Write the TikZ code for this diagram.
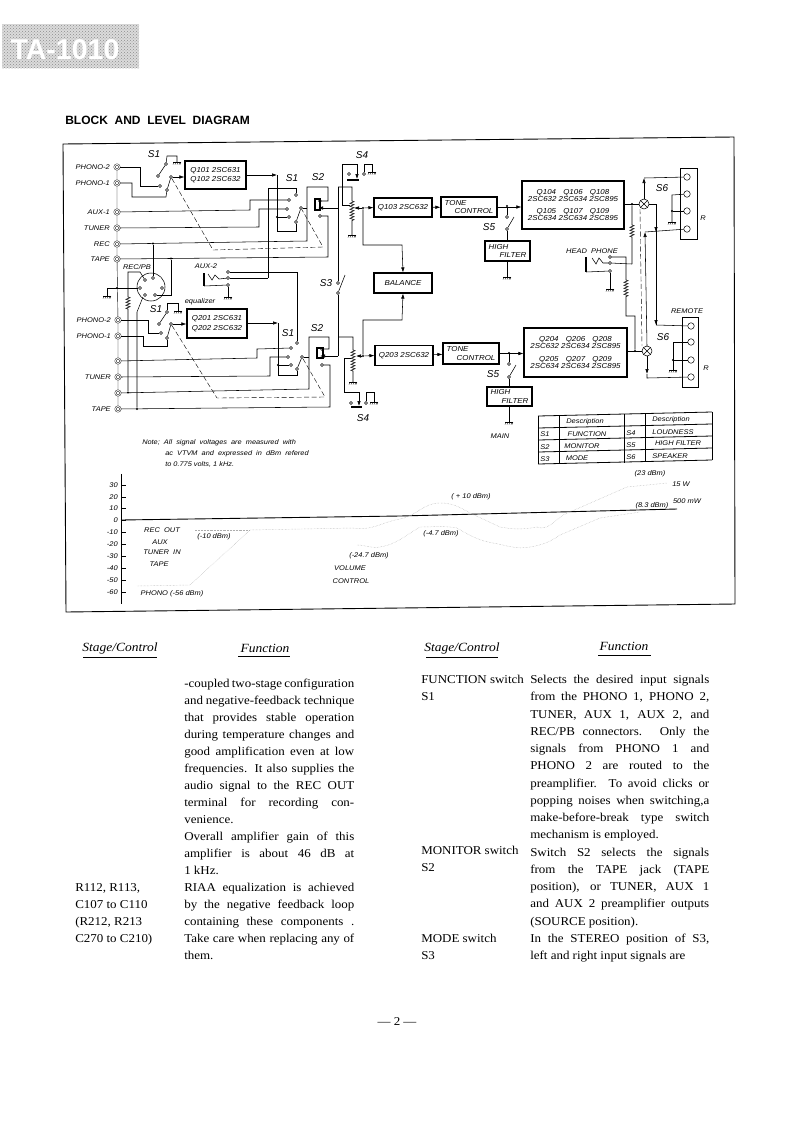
\documentclass[tikz,border=0pt]{standalone}
\usepackage{fontspec}
\setmainfont[FakeStretch=1.08]{Liberation Serif}
\newfontfamily\labfont[FakeStretch=1.1]{Liberation Sans}
\newfontfamily\titlefont{Liberation Sans}
\usepackage{amsmath,amssymb}
\usetikzlibrary{arrows.meta,positioning,calc,decorations.pathmorphing,patterns}

\begin{document}
\begin{tikzpicture}[x=1pt,y=-1pt,>={Latex[length=5pt,width=3.5pt]},line width=.55pt,
  box/.style={draw,line width=1.1pt,inner sep=0pt,align=left,font=\labfont\itshape\fontsize{7.2}{8.6}\selectfont},
  lab/.style={inner sep=0pt,align=center,font=\labfont\itshape\fontsize{6.8}{8}\selectfont},
  big/.style={inner sep=0pt,font=\titlefont\itshape\fontsize{10}{11}\selectfont},
  jack/.style={circle,draw,line width=.4pt,double,double distance=.9pt,inner sep=0pt,minimum size=5pt,fill=white},
  term/.style={circle,draw,line width=.4pt,fill=white,inner sep=0pt,minimum size=3pt},
  spk/.style={circle,draw,line width=.5pt,fill=white,inner sep=0pt,minimum size=6.5pt},
  dot/.style={circle,fill,inner sep=0pt,minimum size=2.2pt},
  mix/.style={circle,draw,fill=white,inner sep=0pt,minimum size=10pt,path picture={
    \draw (path picture bounding box.north west) -- (path picture bounding box.south east)
          (path picture bounding box.north east) -- (path picture bounding box.south west);}},
  zz/.style={decoration={zigzag,segment length=3pt,amplitude=2pt}},
  link/.style={dashed,dash pattern=on 5pt off 2.5pt,line width=.4pt},
  trace/.style={densely dotted,line width=.45pt,black!32},
  body/.style={inner sep=0pt,anchor=north west,align=justify,font=\fontsize{12}{17}\selectfont},
  stage/.style={inner sep=0pt,anchor=north west,align=left,font=\fontsize{12}{17.2}\selectfont},
  head/.style={inner sep=0pt,font=\itshape\fontsize{12.5}{14}\selectfont},
  gnd/.pic={\draw[line width=.4pt] (-4,0) -- (4,0);
    \foreach \i in {-3,-1,1,3,4} \draw[line width=.3pt] (\i,0) -- (\i-1,2.5);}]
\useasboundingbox (0,0) rectangle (795,1122);

% banner and title
\fill[black!14] (2,24) rectangle (139,68);
\fill[pattern=crosshatch dots,pattern color=black!45] (2,24) rectangle (139,68);
\node (banner) [inner sep=0pt,text=white,font=\titlefont\bfseries\fontsize{28.5}{30}\selectfont] at (65,50) {TA-1010};
\node (title) [inner sep=0pt,anchor=west,font=\titlefont\bfseries\fontsize{12}{14}\selectfont] at (65,120) {BLOCK\ \ AND\ \ LEVEL\ \ DIAGRAM};
\draw[line width=.9pt] (63,144) -- (734,137) -- (735,604) -- (66,612) -- cycle;

% jacks
\foreach \n/\y/\t in {jpa/167/PHONO-2,jpb/183/PHONO-1,jaux/212/AUX-1,jtun/228/TUNER,jrec/244/REC,jtap/259/TAPE}{
  \node (\n) [jack] at (117,\y) {};
  \node (\n txt) [lab,anchor=east] at (110,\y) {\t};
}
\foreach \n/\y/\t in {lpa/320/PHONO-2,lpb/336/PHONO-1,laux/361/,ltun/377/TUNER,lrec/393/,ltap/409/TAPE}{
  \node (\n) [jack] at (118,\y) {};
  \node (\n txt) [lab,anchor=east] at (111,\y) {\t};
}
\draw[line width=.4pt] (jpa) -- (jpb) -- (jaux) -- (jtun) -- (jrec) -- (jtap) -- (lpa) -- (lpb) -- (laux) -- (ltun) -- (lrec) -- (ltap);

% blocks, upper channel
\node (q101) [box,minimum width=61pt,minimum height=28pt] at (215.5,175) {Q101 2SC631\\[1pt]Q102 2SC632};
\node (q103) [box,minimum width=58pt,minimum height=19pt,align=center] at (403,207.5) {Q103 2SC632};
\node (tone1) [box,minimum width=56pt,minimum height=20pt,align=left] at (469,207) {TONE\\\hspace*{10pt}CONTROL};
\node (q104) [box,minimum width=102pt,minimum height=48pt,align=center] at (573,205) {Q104\quad Q106\quad Q108\\[-1.5pt]2SC632 2SC634 2SC895\\[4pt]Q105\quad Q107\quad Q109\\[-1.5pt]2SC634 2SC634 2SC895};
\node (hf1) [box,minimum width=45pt,minimum height=20pt] at (507.5,251) {HIGH\\\hspace*{11pt}FILTER};
\node (bal) [box,minimum width=58pt,minimum height=20pt,align=center] at (403,283) {BALANCE};
% blocks, lower channel
\node (q201) [box,minimum width=60pt,minimum height=29pt] at (217,323.5) {Q201 2SC631\\[1pt]Q202 2SC632};
\node (q203) [box,minimum width=58pt,minimum height=20pt,align=center] at (404,355.5) {Q203 2SC632};
\node (tone2) [box,minimum width=56pt,minimum height=21pt,align=left] at (471,353.5) {TONE\\\hspace*{10pt}CONTROL};
\node (q204) [box,minimum width=103pt,minimum height=49pt,align=center] at (575.5,352.5) {Q204\quad Q206\quad Q208\\[-1.5pt]2SC632 2SC634 2SC895\\[4pt]Q205\quad Q207\quad Q209\\[-1.5pt]2SC634 2SC634 2SC895};
\node (hf2) [box,minimum width=45pt,minimum height=19pt] at (509.5,396.5) {HIGH\\\hspace*{11pt}FILTER};

% upper S1 input
\node (a1) [term] at (160,186) {};
\node (a2) [term] at (167,190) {};
\node (a3) [term] at (171,177) {};
\node (a4) [term] at (158,176) {};
\node (a5) [term] at (166,164) {};
\draw (jpa) -- (140,167) -- (140,186) -- (a1);
\draw (jpb) -- (132,183) -- (132,197) -- (166,197) -- (a2);
\draw (a2) -- (a3);
\draw (a4) -- (a5);
\draw (a5) -- (167,156) -- (177,156) -- (177,162);
\pic at (177,162) {gnd};
\draw[->] (a3) -- (q101.west |- a3);
% upper S1 output
\node (b1) [term] at (296,195) {};
\node (b2) [term] at (289,200) {};
\node (b3) [term] at (287,209) {};
\node (b4) [term] at (289,217) {};
\node (b5) [term] at (296,222) {};
\node (b6) [term] at (301,208) {};
\node (bj) [dot] at (277,217) {};
\draw[->] (q101.east |- 0,175) -- (277,175);
\draw (277,175) -- (277,231) -- (296,231) -- (b5);
\draw (bj) -- (b4);
\draw (b5) -- (b6);
\draw (b1) -- (296,188) -- (268,188) -- (268,278);
\draw (b2) -- (250,200) -- (250,210) -- (jaux);
\draw (b3) -- (259,209) -- (259,227) -- (jtun);
% upper S2
\node (c1) [term] at (320,201) {};
\node (c2) [term] at (320,216) {};
\draw[line width=1.5pt] (315,199) rectangle (320,210);
\draw (b6) -- (307,208);
\draw (jrec) -- (307,241) -- (307,187) -- (328,187) -- (328,201) -- (c1);
\draw (jtap) -- (328,257) -- (328,216) -- (c2);
\draw[link] (a3) -- (213,250) -- (323,247) -- (b6);
% REC/PB socket
\node (din) [circle,draw,inner sep=0pt,minimum size=28pt] at (151,287) {};
\foreach \n/\x/\y in {p1/145/280,p2/153/278,p3/162/288,p4/155/295,p5/145/295,p6/140/288}{
  \node (\n) [term] at (\x,\y) {};
}
\node (recpb) [lab] at (137,267) {REC/PB};
\node (d1) [dot] at (153,243.5) {};
\node (d2) [dot] at (171,258.5) {};
\node (d3) [dot] at (117,288) {};
\node (d4) [dot] at (128,392.5) {};
\node (d5) [dot] at (137,409) {};
\draw (d1) -- (p2);
\draw (d2) -- (171,295) -- (p4);
\draw (p1) -- (140,272) -- (128,272) -- (128,297) decorate[decoration={zigzag,segment length=3pt,amplitude=2pt}] {-- (128,310)} -- (d4);
\draw (107,288) -- (p6);
\draw (107,288) -- (107,296);
\pic at (107,296) {gnd};
\draw (d5) -- (137,312) -- (143,297);
% AUX-2
\node (aux2) [lab] at (206,266) {AUX-2};
\node (e1) [term] at (228,272) {};
\node (e2) [term] at (228,278) {};
\node (e3) [term] at (228,285) {};
\draw[line width=1.1pt] (204,273) -- (204,286);
\draw (204,286) -- (e3);
\draw (208,274) -- (212,280) -- (215,275) -- (219,279) -- (e2);
\draw (e2) -- (268,278);
\draw (e3) -- (228,297);
\pic at (228,297) {gnd};
% lower S1 input
\node (f1) [term] at (161,333) {};
\node (f2) [term] at (167,338) {};
\node (f3) [term] at (171,324) {};
\node (f4) [term] at (159,324) {};
\node (f5) [term] at (167,312) {};
\draw (lpa) -- (148,320) -- (148,333) -- (f1);
\draw (lpb) -- (143,336) -- (143,346) -- (167,346) -- (f2);
\draw (f2) -- (f3);
\draw (f4) -- (f5);
\draw (f5) -- (167,303) -- (178,303) -- (178,311);
\pic at (178,311) {gnd};
\draw[->] (f3) -- (q201.west |- f3);
% lower S1 output
\node (g1) [term] at (297,343) {};
\node (g2) [term] at (291,348) {};
\node (g3) [term] at (288,357) {};
\node (g4) [term] at (291,365) {};
\node (g5) [term] at (297,369) {};
\node (g6) [term] at (302,357) {};
\node (gj) [dot] at (278,365) {};
\draw[->] (q201.east |- 0,323) -- (278,323);
\draw (278,323) -- (278,375) -- (297,375) -- (g5);
\draw (gj) -- (g4);
\draw (g5) -- (g6);
\draw (e1) -- (297,272) -- (g1);
\draw (g2) -- (257,349) -- (257,358) -- (laux);
\draw (g3) -- (270,357) -- (270,376) -- (ltun);
% lower S2
\node (h1) [term] at (322,349) {};
\node (h2) [term] at (322,365) {};
\draw[line width=1.5pt] (317,348) rectangle (323,358);
\draw (g6) -- (309,357);
\draw (lrec) -- (309,389) -- (309,337) -- (329,337) -- (329,349) -- (h1);
\draw (ltap) -- (330,407) -- (330,365) -- (h2);
\draw[link] (f3) -- (217,398) -- (325,397) -- (g6);
% S3 and monitor outputs
\node (s3a) [term] at (338,283) {};
\node (s3b) [term] at (338,293) {};
\draw (s3b) -- (345,275);
\draw (338,187) -- (s3a);
\draw (s3b) -- (338,356);
\draw[->] (338,208) -- (318,208);
\draw[->] (338,356) -- (320,356);
% upper volume and S4
\node (wu) [dot] at (363,208) {};
\draw (338,187) -- (352,187) -- (352,201) decorate[zz] {-- (352,221)} -- (352,235);
\pic at (352,235) {gnd};
\draw[->] (wu) -- (354,208);
\draw[->] (wu) -- (q103.west);
\draw (350,205) -- (342,205) -- (342,164) -- (357,164);
\draw[->] (357,164) -- (357,179);
\draw[line width=1.5pt] (347,180) -- (359,180);
\node (u1) [term] at (349,174) {};
\node (u2) [term] at (364,174) {};
\draw (u2) -- (364,164) -- (372,164) -- (372,172);
\pic at (372,172) {gnd};
\draw[->] (wu) -- (363,245) -- (402,245) -- (bal.north);
% lower volume and S4
\node (wl) [dot] at (363,356) {};
\draw (338,337) -- (353,337) -- (353,350) decorate[zz] {-- (353,372)} -- (353,382);
\pic at (353,382) {gnd};
\draw[->] (wl) -- (356,356);
\draw[->] (wl) -- (q203.west);
\draw (351,358) -- (344,358) -- (344,392) -- (359,392);
\draw[->] (359,392) -- (359,406);
\draw[line width=1.5pt] (351,407) -- (362,407);
\node (v1) [term] at (351,403) {};
\node (v2) [term] at (366,403) {};
\draw (v2) -- (366,392) -- (374,392) -- (374,402);
\pic at (374,402) {gnd};
\draw[->] (wl) -- (363,320) -- (402,320) -- (bal.south);
% tone and high filter
\draw[->] (q103) -- (tone1);
\draw[->] (q203) -- (tone2);
\node (k1) [dot] at (507,206) {};
\node (k2) [term] at (507,217) {};
\node (k3) [term] at (507,229) {};
\draw[->] (tone1.east) -- (q104.west |- tone1.east);
\draw (k1) -- (k2);
\draw (k3) -- (514,217);
\draw (k3) -- (hf1.north -| k3);
\draw (hf1.south -| k3) -- (507,277);
\pic at (507,277) {gnd};
\node (m1) [dot] at (509,353) {};
\node (m2) [term] at (509,364) {};
\node (m3) [term] at (509,377) {};
\draw[->] (tone2.east) -- (q204.west |- tone2.east);
\draw (m1) -- (m2);
\draw (m3) -- (516,365);
\draw (m3) -- (hf2.north -| m3);
\draw (hf2.south -| m3) -- (509,422);
\pic at (509,422) {gnd};
% power amp outputs
\node (x1) [mix] at (644,204) {};
\node (x2) [mix] at (647,351) {};
\node (n1) [dot] at (632,204) {};
\node (n2) [dot] at (635,351) {};
\draw (q104.east |- x1) -- (x1);
\draw (q204.east |- x2) -- (x2);
\draw (n1) -- (632,225) decorate[zz] {-- (632,237)} -- (632,264);
\node (pa) [term] at (610,257) {};
\node (pb) [term] at (610,263) {};
\node (pc) [term] at (610,271) {};
\node (hp) [lab] at (592,251) {HEAD\ \ PHONE};
\draw[line width=1.1pt] (586,257) -- (586,272);
\draw (586,272) -- (pc);
\draw (592,258) -- (596,264) -- (599,258) -- (603,263) -- (pb);
\draw (pb) -- (632,264);
\draw (pc) -- (610,289);
\pic at (610,289) {gnd};
\draw (pa) -- (626,257) -- (626,280) decorate[zz] {-- (626,297)} -- (626,316) -- (635,316) -- (n2);
\draw[link] (640,209) -- (642,346);
% speaker terminals, upper
\node (sp1) [draw,line width=.9pt,minimum width=17pt,minimum height=71pt,inner sep=0pt] at (688.5,203.5) {};
\foreach \n/\y in {ua/177,ub/194,uc/211,ud/229}{
  \node (\n) [spk] at (687,\y) {};
}
\node (r1) [lab] at (703,218) {R};
\node (s6u) [big] at (662,188) {S6};
\draw[->] (x1) -- (644,178);
\draw (644,178) -- (ua);
\draw (x1) -- (656,204) -- (656,325);
\draw[->] (656,215) -- (656,232);
\draw[->] (647,346) -- (645,232);
\draw (645,232) -- (ud);
\draw (ub) -- (672,195) -- (672,222);
\node (n3) [dot] at (672,211) {};
\draw (n3) -- (uc);
\pic at (672,222) {gnd};
% speaker terminals, lower
\node (sp2) [draw,line width=.9pt,minimum width=16pt,minimum height=70pt,inner sep=0pt] at (690,352) {};
\foreach \n/\y in {la/326,lb/342,lc/360,ld/377}{
  \node (\n) [spk] at (691,\y) {};
}
\node (r2) [lab] at (706,368) {R};
\node (s6l) [big] at (663,337) {S6};
\node (rem) [lab] at (687,311) {REMOTE};
\draw[->] (656,318) -- (656,325);
\draw (656,325) -- (la);
\draw[->] (x2) -- (647,374);
\draw (647,374) -- (647,378) -- (ld);
\draw (lb) -- (673,342) -- (673,370);
\node (n4) [dot] at (673,360) {};
\draw (n4) -- (lc);
\pic at (673,370) {gnd};
% switch labels
\foreach \n/\x/\y/\t in {l1/154/154/S1,l2/292/178/S1,l3/318/177/S2,l4/362/155/S4,l5/326/283/S3,l6/156/309/S1,l7/288/333/S1,l8/317/328/S2,l9/363/418/S4,l10/489/227/S5,l11/493/374/S5}{
  \node (\n) [big] at (\x,\y) {\t};
}
\node (eq) [lab] at (200,302) {equalizer};
\node (mainl) [lab] at (500,436) {MAIN};
\node (note) [lab,anchor=north west,align=left,font=\labfont\itshape\fontsize{6.7}{11}\selectfont] at (142,439) {Note;\ \ All\ \ signal\ \ voltages\ \ are\ \ measured\ \ with\\\hspace*{23pt}ac\ \ VTVM\ \ and\ \ expressed\ \ in\ \ dBm\ \ refered\\\hspace*{23pt}to 0.775 volts, 1 kHz.};

% description table
\foreach \a/\b in {416/412,428/424,440/436,452/448,464/460}{
  \draw[line width=.8pt] (538,\a) -- (712,\b);
}
\foreach \x/\a/\b in {538/416/464,559/415/464,624/414/463,645/414/462,712/412/460}{
  \draw[line width=.7pt] (\x,\a) -- (\x,\b);
}
\foreach \n/\x/\y/\t in {ta/585/422/Description,tb/671/420/Description,tc/545/434/S1,td/587/434/FUNCTION,te/631/433/S4,tf/673/432/LOUDNESS,tg/545/447/S2,th/582/446/MONITOR,ti/631/445/S5,tj/678/443/HIGH FILTER,tk/545/459/S3,tl/577/458/MODE,tm/631/457/S6,tn/670/456/SPEAKER}{
  \node (\n) [lab] at (\x,\y) {\t};
}

% level chart
\node (top) at (121,473) [inner sep=0pt] {};
\node (bot) at (121,605) [inner sep=0pt] {};
\draw[line width=.7pt] (top) -- (bot);
\foreach \y/\t in {485/30,497/20,508/10,520/0,532/-10,544/-20,556/-30,568/-40,580/-50,592/-60}{
  \node (t\t) [lab,anchor=east] at (118,\y) {\t};
  \draw[line width=.4pt] (121,\y) -- (126,\y);
}
\draw[line width=.9pt] (121,520) -- (400,516) -- (677,509);
\draw[trace] (137,586) -- (190,585) -- (250,530) -- (353,528) to[out=-10,in=190] (400,519) to[out=10,in=180] (440,503) to[out=0,in=150] (470,513) -- (500,527) to[out=-10,in=190] (537,527) to[out=-20,in=215] (563,515) -- (627,487) -- (667,483);
\draw[trace] (195,530) -- (250,530);
\draw[trace] (357,545) to[out=0,in=190] (380,547) to[out=10,in=210] (420,527) to[out=0,in=170] (457,528) to[out=-30,in=170] (493,543) to[out=-10,in=190] (530,547) to[out=10,in=215] (560,535) -- (600,518) -- (640,512);
\foreach \n/\x/\y/\t in {c1t/162/530/REC\ \ OUT,c2t/160/542/AUX,c3t/162/552/TUNER\ \ IN,c4t/159/564/TAPE,c5t/172/594/PHONO (-56 dBm),c6t/214/537/(-10 dBm),c7t/369/556/(-24.7 dBm),c8t/350/568/VOLUME,c9t/351/581/CONTROL,c10t/471/497/( + 10 dBm),c11t/441/534/(-4.7 dBm),c12t/650/474/(23 dBm),c13t/681/484/15 W,c14t/687/501/500 mW,c15t/652/506/(8.3 dBm)}{
  \node (\n) [lab] at (\x,\y) {\t};
}

% text below the diagram
\node (hs1) [head] at (120,648) {Stage/Control};
\node (hf1t) [head] at (265,648) {Function};
\node (hs2) [head] at (462,648) {Stage/Control};
\node (hf2t) [head] at (624,646) {Function};
\draw[line width=.5pt] (83,657) -- (157,657);
\draw[line width=.5pt] (238,656) -- (290,656);
\draw[line width=.5pt] (426,657) -- (498,657);
\draw[line width=.5pt] (598,655) -- (651,655);

\node (col1) [body,text width=170pt] at (184,679) {%
-coupled two-stage configuration\linebreak
and negative-feedback technique\linebreak
that provides stable operation\linebreak
during temperature changes and\linebreak
good amplification even at low\linebreak
frequencies. It also supplies the\linebreak
audio signal to the REC OUT\linebreak
terminal for recording con-\linebreak
venience.\\
Overall amplifier gain of this\linebreak
amplifier is about 46 dB at\linebreak
1 kHz.\\
RIAA equalization is achieved\linebreak
by the negative feedback loop\linebreak
containing these components .\linebreak
Take care when replacing any of\linebreak
them.};
\node (col2) [body,text width=179pt,font=\fontsize{12}{17.25}\selectfont] at (530,675) {%
Selects the desired input signals\linebreak
from the PHONO 1, PHONO 2,\linebreak
TUNER, AUX 1, AUX 2, and\linebreak
REC/PB connectors. Only the\linebreak
signals from PHONO 1 and\linebreak
PHONO 2 are routed to the\linebreak
preamplifier. To avoid clicks or\linebreak
popping noises when switching,a\linebreak
make-before-break type switch\linebreak
mechanism is employed.\\
Switch S2 selects the signals\linebreak
from the TAPE jack (TAPE\linebreak
position), or TUNER, AUX 1\linebreak
and AUX 2 preamplifier outputs\linebreak
(SOURCE position).\\
In the STEREO position of S3,\linebreak
left and right input signals are};
\node (st1) [stage] at (75,883) {R112, R113,\\C107 to C110\\(R212, R213\\C270 to C210)};
\node (st2) [stage] at (421,675) {FUNCTION switch\\S1};
\node (st3) [stage] at (421,846) {MONITOR switch\\S2};
\node (st4) [stage] at (421,934) {MODE switch\\S3};
\node (page) [inner sep=0pt,font=\fontsize{12}{14}\selectfont] at (397,1022) {--- 2 ---};
\end{tikzpicture}
\end{document}
